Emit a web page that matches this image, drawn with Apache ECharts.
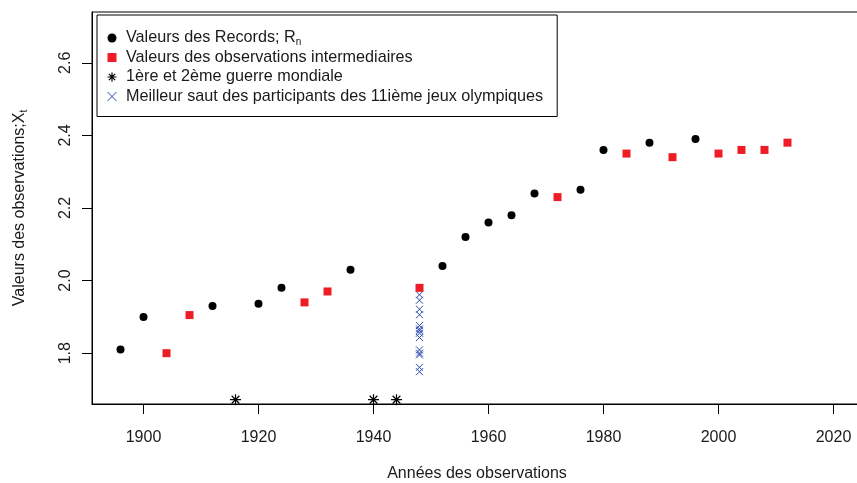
<!DOCTYPE html>
<html>
<head>
<meta charset="utf-8">
<script src="https://cdn.jsdelivr.net/npm/echarts@6/dist/echarts.min.js"></script>
<style>
html,body{margin:0;padding:0;background:#fff;}
#chart{width:857px;height:483px;}
</style>
</head>
<body>
<div id="chart"></div>
<script>
// ---- data ----
var recordYears  = [1896, 1900, 1912, 1920, 1924, 1936, 1952, 1956, 1960, 1964, 1968, 1976, 1980, 1988, 1996];
var recordValues = [1.81, 1.90, 1.93, 1.936, 1.98, 2.03, 2.04, 2.12, 2.16, 2.18, 2.24, 2.25, 2.36, 2.38, 2.39];

var interYears  = [1904, 1908, 1928, 1932, 1948, 1972, 1984, 1992, 2000, 2004, 2008, 2012];
var interValues = [1.80, 1.905, 1.94, 1.97, 1.98, 2.23, 2.35, 2.34, 2.35, 2.36, 2.36, 2.38];

var warYears  = [1916, 1940, 1944];
var warValues = [1.672, 1.672, 1.672];

var jo1948Year   = 1948;
var jo1948Values = [1.961, 1.946, 1.921, 1.906, 1.876, 1.867, 1.862, 1.855, 1.843, 1.809, 1.80, 1.795, 1.761, 1.749];

var xTicks = [1900, 1920, 1940, 1960, 1980, 2000, 2020];
var yTicks = [1.8, 2.0, 2.2, 2.4, 2.6];

var legendNames = [
  'Valeurs des Records; Rn',
  'Valeurs des observations intermediaires',
  '1ère et 2ème guerre mondiale',
  'Meilleur saut des participants des 11ième jeux olympiques'
];

function pairs(xs, ys) { return xs.map(function (x, i) { return [x, ys[i]]; }); }

var FONT = '"Liberation Sans", Arial, sans-serif';
var TXT = '#1a1a1a';
var RED = '#EE1C25';
var BLUE = '#2A48B0';
var SQUARE = 'path://M0 0L10 0L10 10L0 10Z';
var CROSS = 'path://M0 0L10 10M10 0L0 10';
var STAR = 'path://M0 5L10 5M5 0L5 10M1.5 1.5L8.5 8.5M8.5 1.5L1.5 8.5';

var chart = echarts.init(document.getElementById('chart'), null, {renderer: 'canvas'});

chart.setOption({
  animation: false,
  textStyle: {fontFamily: FONT},
  grid: {
    left: 92, top: 12, width: 770, height: 392,
    containLabel: false,
    outerBoundsMode: 'none',
    show: true, borderColor: '#000', borderWidth: 1, backgroundColor: 'transparent'
  },
  legend: {
    orient: 'vertical',
    left: 97, top: 15,
    padding: [14, 14, 11, 8],
    itemGap: 1.5,
    itemWidth: 18, itemHeight: 9,
    symbolKeepAspect: true,
    borderColor: '#000', borderWidth: 1,
    backgroundColor: '#fff',
    data: [
      {name: legendNames[0]},
      {name: legendNames[1]},
      {name: legendNames[2], itemStyle: {color: 'none', borderColor: '#000', borderWidth: 1.2}},
      {name: legendNames[3], itemStyle: {color: 'none', borderColor: BLUE, borderWidth: 1}}
    ],
    formatter: function (n) {
      return n === legendNames[0] ? 'Valeurs des Records; R{sub|n}' : n;
    },
    textStyle: {
      fontFamily: FONT, fontSize: 16.2, color: TXT, lineHeight: 18,
      rich: {sub: {fontFamily: FONT, fontSize: 10, color: TXT, verticalAlign: 'bottom', lineHeight: 18, padding: [8, 0, 0, 0]}}
    }
  },
  xAxis: {
    type: 'value',
    min: 1891.04, max: 2024.96,
    name: 'Années des observations',
    nameLocation: 'middle', nameGap: 62,
    nameTextStyle: {fontFamily: FONT, fontSize: 16, color: TXT},
    axisLine: {show: true, onZero: false, lineStyle: {color: '#000', width: 1}},
    axisTick: {show: true, length: 10, lineStyle: {color: '#000'}, customValues: xTicks},
    axisLabel: {
      fontFamily: FONT, fontSize: 16, color: TXT, margin: 26, customValues: xTicks,
      formatter: function (v) { return String(Math.round(v)); }
    },
    splitLine: {show: false}
  },
  yAxis: {
    type: 'value',
    min: 1.66, max: 2.74,
    name: 'Valeurs des observations;X{sub|t}',
    nameLocation: 'middle', nameGap: 63,
    nameTextStyle: {
      fontFamily: FONT, fontSize: 16, color: TXT,
      rich: {sub: {fontFamily: FONT, fontSize: 10, color: TXT, verticalAlign: 'bottom', padding: [8, 0, 0, 0]}}
    },
    axisLine: {show: true, onZero: false, lineStyle: {color: '#000', width: 1}},
    axisTick: {show: true, length: 10, lineStyle: {color: '#000'}, customValues: yTicks},
    axisLabel: {
      fontFamily: FONT, fontSize: 16, color: TXT, margin: 18, rotate: 90,
      customValues: yTicks,
      formatter: function (v) { return Number(v).toFixed(1); }
    },
    splitLine: {show: false}
  },
  series: [
    {
      name: legendNames[0], type: 'scatter',
      data: pairs(recordYears, recordValues),
      symbol: 'circle', symbolSize: 8,
      itemStyle: {color: '#000', opacity: 1}
    },
    {
      name: legendNames[1], type: 'scatter',
      data: pairs(interYears, interValues),
      symbol: SQUARE, symbolSize: 8, symbolKeepAspect: true,
      itemStyle: {color: RED, opacity: 1}
    },
    {
      name: legendNames[2], type: 'scatter',
      data: pairs(warYears, warValues),
      symbol: STAR, symbolSize: 11, symbolKeepAspect: true,
      itemStyle: {color: 'none', borderColor: '#000', borderWidth: 1.2, opacity: 1}
    },
    {
      name: legendNames[3], type: 'scatter',
      data: jo1948Values.map(function (v) { return [jo1948Year, v]; }),
      symbol: CROSS, symbolSize: 7, symbolKeepAspect: true,
      itemStyle: {color: 'none', borderColor: BLUE, borderWidth: 1, opacity: 1},
      z: 1
    }
  ]
});
</script>
</body>
</html>
